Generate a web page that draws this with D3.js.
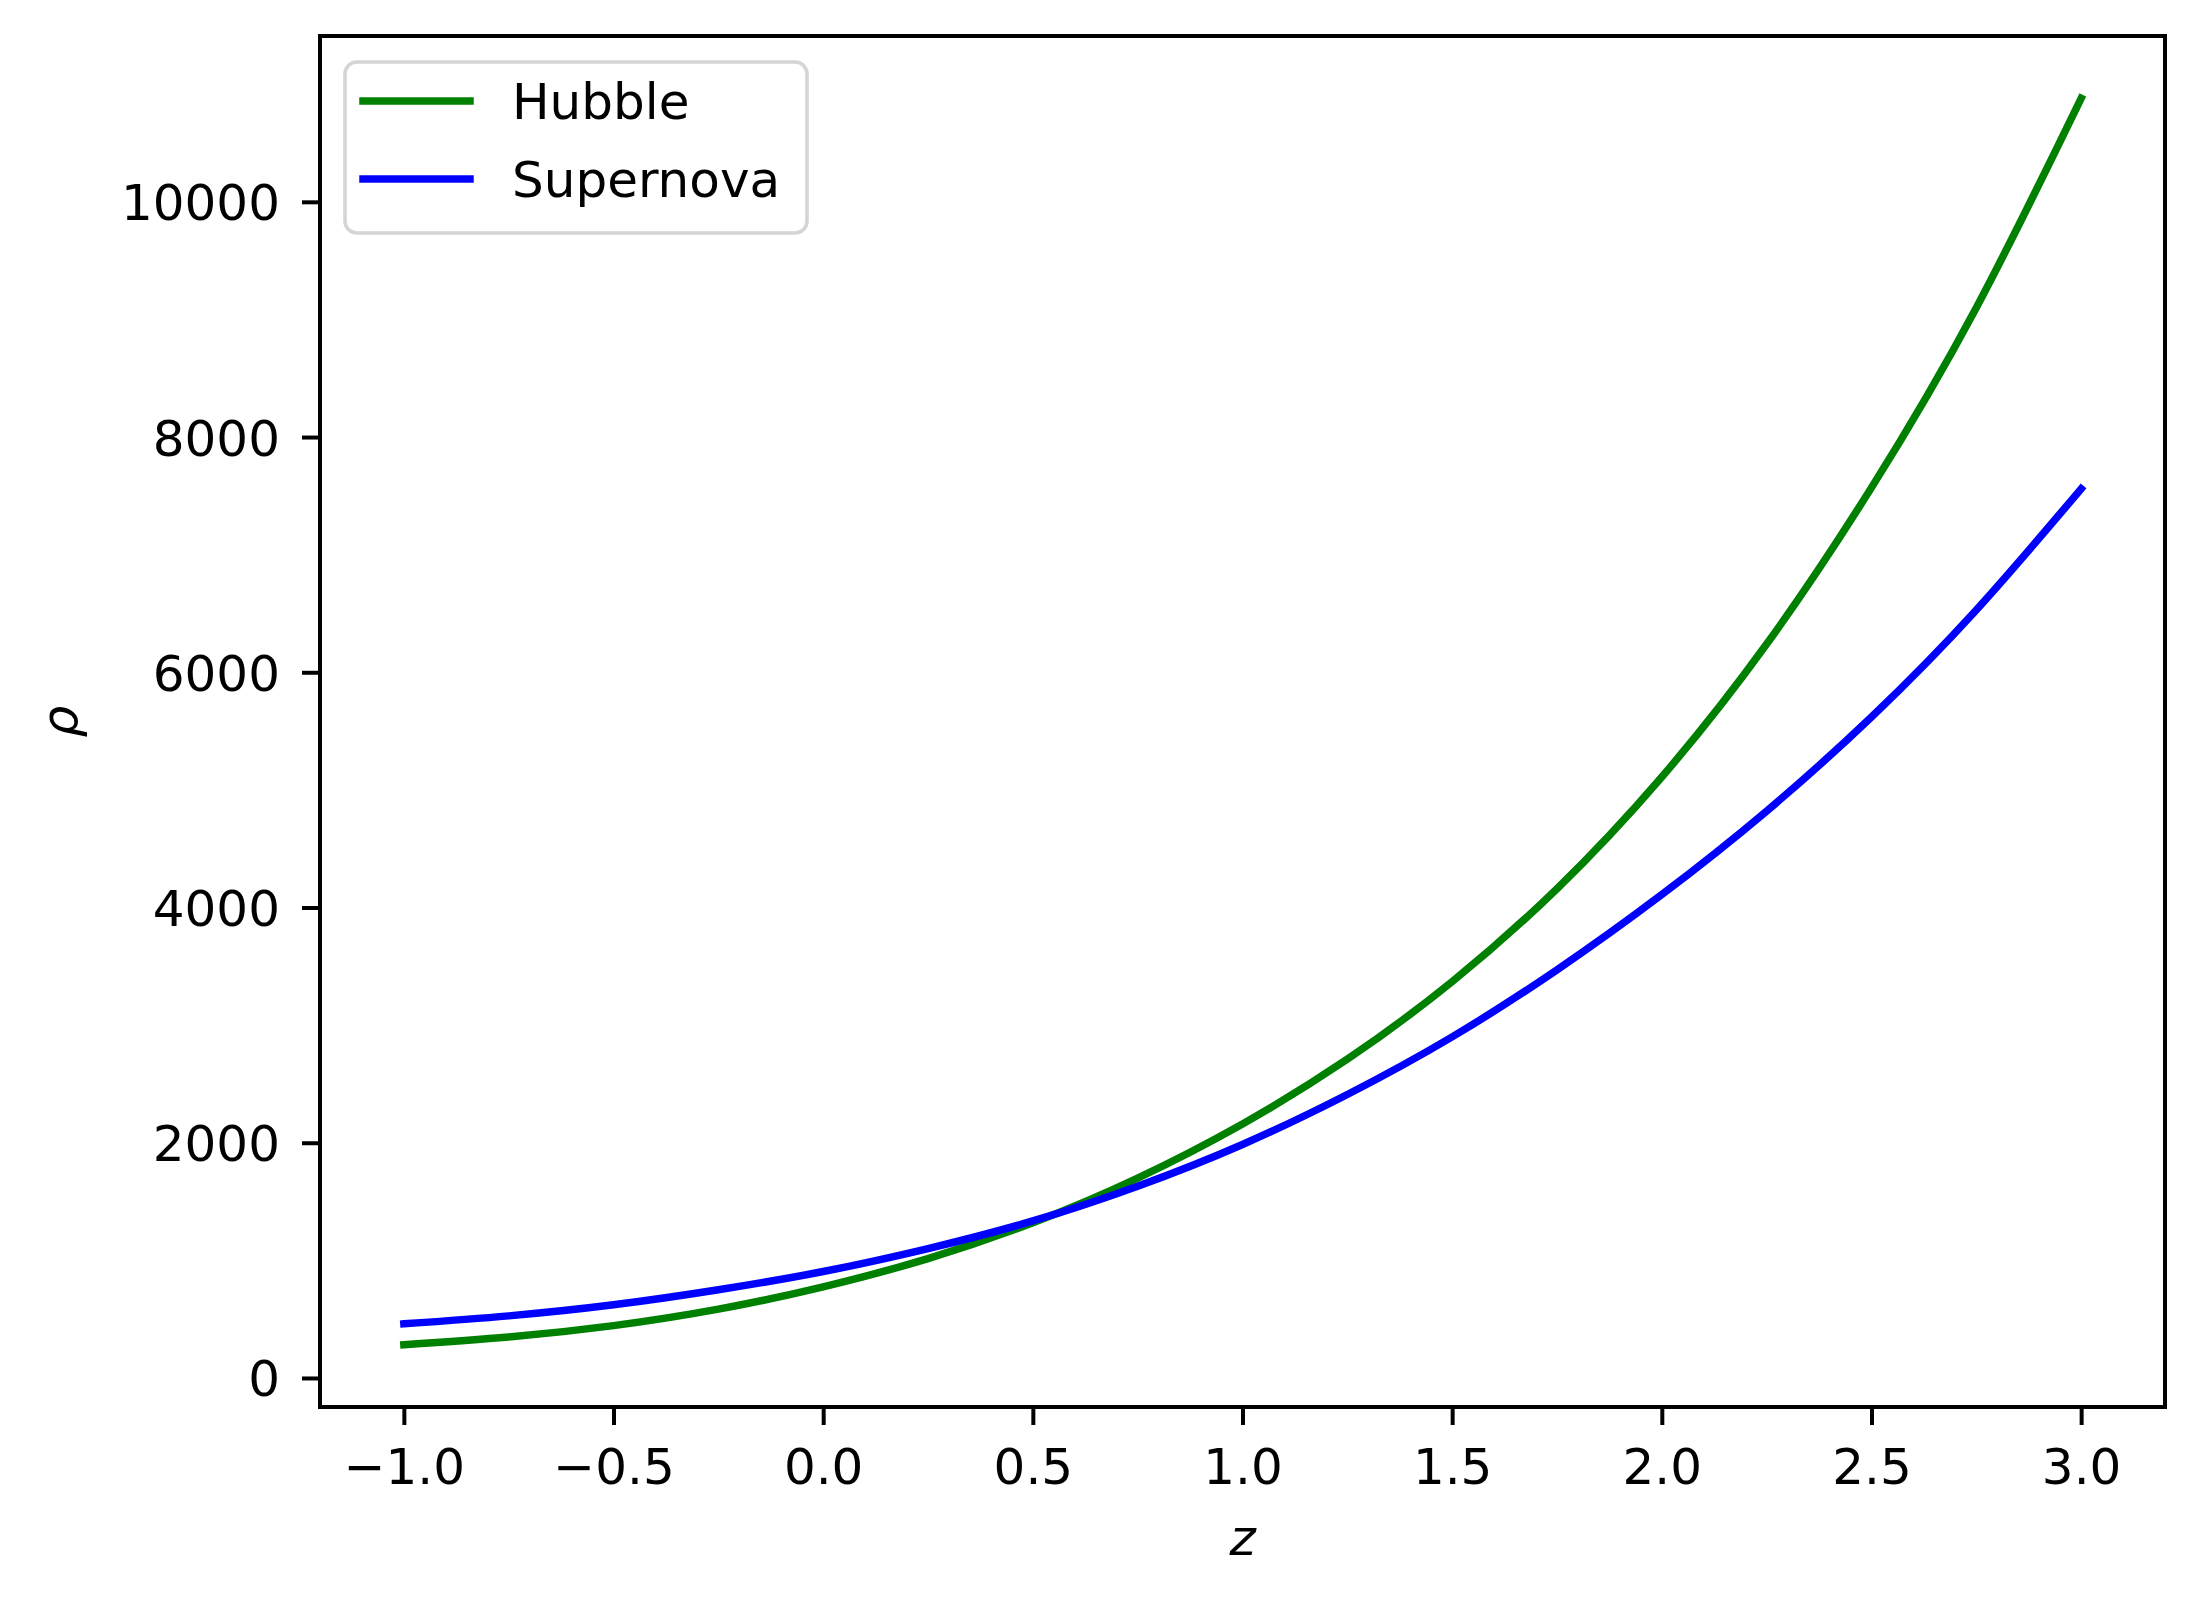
<!DOCTYPE html>
<html>
<head>
<meta charset="utf-8">
<script src="https://cdn.jsdelivr.net/npm/d3@7"></script>
<style>
  body { margin: 0; background: #ffffff; }
  svg { display: block; font-family: "DejaVu Sans", sans-serif; }
</style>
</head>
<body>
<div id="graphique"></div>
<script>
//*** Données ******************************************************************************/
const valeursZ = [-1, -0.75, -0.5, -0.25, 0, 0.25, 0.5, 0.75, 1, 1.25, 1.5, 1.75, 2, 2.25, 2.5, 2.75, 3];
const hubble = [283, 348, 445, 585, 775, 1015, 1320, 1700, 2160, 2710, 3370, 4160, 5110, 6240, 7570, 9100, 10880];
const supernova = [460, 528, 622, 750, 905, 1100, 1335, 1630, 1985, 2410, 2900, 3470, 4110, 4820, 5620, 6530, 7560];
const nomsSeries = ["Hubble", "Supernova"];
const couleurs = ["green", "blue"];
const ticksX = [-1, -0.5, 0, 0.5, 1, 1.5, 2, 2.5, 3];
const ticksY = [0, 2000, 4000, 6000, 8000, 10000];

//*** Cadre *********************************************************************************/
const largeur = 2211;
const hauteur = 1600;
const marge = { haut: 36, droite: 46, bas: 193, gauche: 320 };
const taillePolice = 50;

const svg = d3
  .select("#graphique")
  .append("svg")
  .attr("width", largeur)
  .attr("height", hauteur);

// séries regroupées pour le dessin
const series = nomsSeries.map((nom, i) => ({
  nom: nom,
  couleur: couleurs[i],
  points: valeursZ.map((z, j) => ({ z: z, rho: [hubble, supernova][i][j] })),
}));

// marges de 5% comme matplotlib
const etendueX = d3.extent(valeursZ);
const margeX = (etendueX[1] - etendueX[0]) * 0.05;
const toutesValeurs = hubble.concat(supernova);
const etendueY = d3.extent(toutesValeurs);
const margeY = (etendueY[1] - etendueY[0]) * 0.05;

const x = d3
  .scaleLinear()
  .domain([etendueX[0] - margeX, etendueX[1] + margeX])
  .range([marge.gauche, largeur - marge.droite]);
const y = d3
  .scaleLinear()
  .domain([etendueY[0] - margeY, etendueY[1] + margeY])
  .range([hauteur - marge.bas, marge.haut]);

//*** Courbes *******************************************************************************/
const ligne = d3
  .line()
  .x((d) => x(d.z))
  .y((d) => y(d.rho))
  .curve(d3.curveNatural);

svg
  .selectAll("path.courbe")
  .data(series)
  .join("path")
  .attr("class", "courbe")
  .attr("d", (d) => ligne(d.points))
  .attr("fill", "none")
  .attr("stroke", (d) => d.couleur)
  .attr("stroke-width", 7.5)
  .attr("stroke-linecap", "square")
  .attr("stroke-linejoin", "round");

//*** Axes **********************************************************************************/
const axeX = svg
  .append("g")
  .attr("transform", `translate(0,${hauteur - marge.bas})`)
  .call(
    d3.axisBottom(x)
      .tickValues(ticksX)
      .tickFormat(d3.format(".1f"))
      .tickSize(18)
      .tickPadding(23)
  );
const axeY = svg
  .append("g")
  .attr("transform", `translate(${marge.gauche},0)`)
  .call(d3.axisLeft(y).tickValues(ticksY).tickFormat(d3.format("d")).tickSize(18).tickPadding(22));

[axeX, axeY].forEach((axe) => {
  axe.attr("font-size", taillePolice).attr("font-family", "DejaVu Sans");
  axe.select(".domain").remove();
  axe.selectAll(".tick line").attr("stroke", "#000").attr("stroke-width", 4);
  axe.selectAll(".tick text").attr("fill", "#000");
});
axeY.selectAll(".tick text").attr("dy", "0.36em");

// cadre noir autour du graphique
svg
  .append("rect")
  .attr("x", marge.gauche)
  .attr("y", marge.haut)
  .attr("width", largeur - marge.droite - marge.gauche)
  .attr("height", hauteur - marge.bas - marge.haut)
  .attr("fill", "none")
  .attr("stroke", "#000")
  .attr("stroke-width", 4);

// titres des axes (italique comme mathtext)
svg
  .append("text")
  .attr("x", (marge.gauche + largeur - marge.droite) / 2)
  .attr("y", 1555)
  .attr("text-anchor", "middle")
  .attr("font-size", taillePolice)
  .attr("font-style", "italic")
  .text("z");

svg
  .append("text")
  .attr("transform", `translate(77,${(marge.haut + hauteur - marge.bas) / 2}) rotate(-90)`)
  .attr("text-anchor", "middle")
  .attr("font-size", taillePolice)
  .attr("font-style", "italic")
  .text("ρ");

//*** Légende *******************************************************************************/
const legende = svg.append("g").attr("transform", `translate(${marge.gauche + 25},62)`);

legende
  .append("rect")
  .attr("width", 462)
  .attr("height", 171)
  .attr("rx", 12)
  .attr("fill", "#fff")
  .attr("fill-opacity", 0.8)
  .attr("stroke", "#d5d5d5")
  .attr("stroke-width", 3.6);

const entrees = legende
  .selectAll("g.entree")
  .data(series)
  .join("g")
  .attr("class", "entree")
  .attr("transform", (d, i) => `translate(0,${39 + i * 78})`);

entrees
  .append("line")
  .attr("x1", 18)
  .attr("x2", 125)
  .attr("stroke", (d) => d.couleur)
  .attr("stroke-width", 7.5)
  .attr("stroke-linecap", "square");

entrees
  .append("text")
  .attr("x", 167)
  .attr("y", 18)
  .attr("font-size", taillePolice)
  .attr("fill", "#000")
  .text((d) => d.nom);
</script>
</body>
</html>
